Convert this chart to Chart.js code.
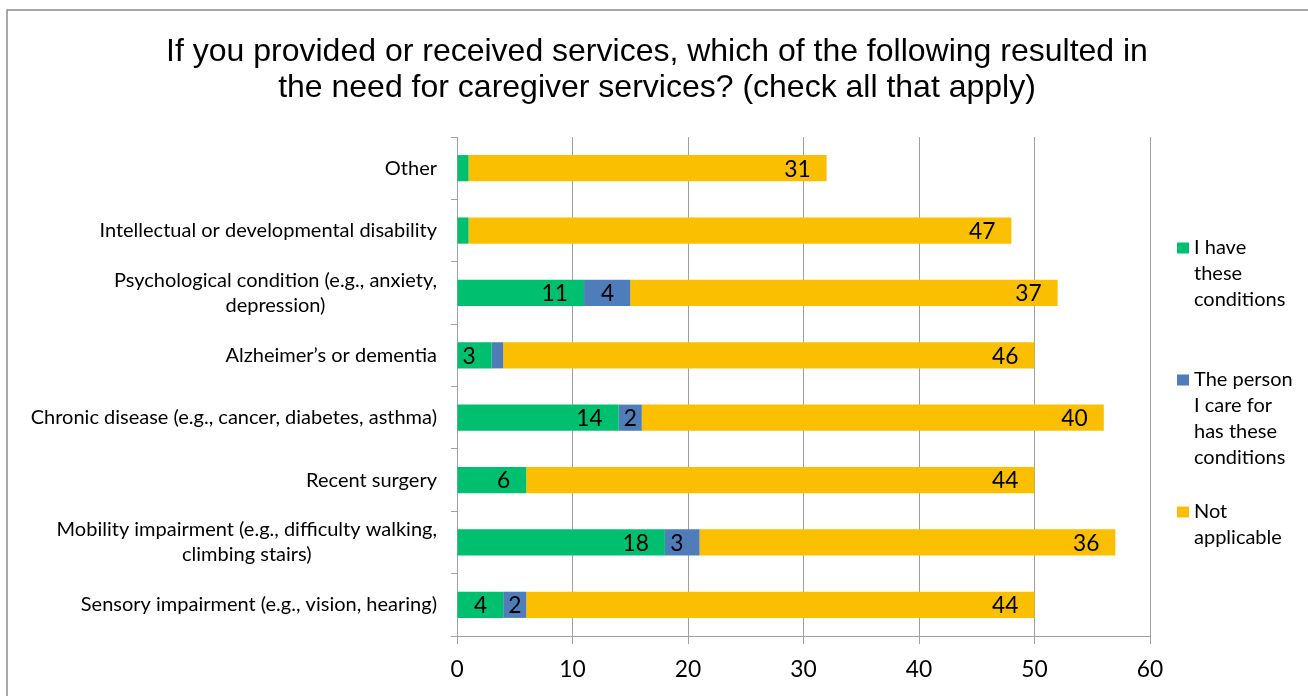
<!DOCTYPE html>
<html>
<head>
<meta charset="utf-8">
<title>Caregiver services</title>
<script src="https://cdn.jsdelivr.net/npm/chart.js@4.4.1/dist/chart.umd.min.js"></script>
<style>
  html, body { margin: 0; padding: 0; background: #fff; }
  #chart { display: block; }
</style>
</head>
<body>
<canvas id="chart" width="1308" height="696"></canvas>
<script>
/* ─── Data ─── */
const titleLines = [
    'If you provided or received services, which of the following resulted in',
    'the need for caregiver services? (check all that apply)'
];

const categories = [
    'Other',
    'Intellectual or developmental disability',
    ['Psychological condition (e.g., anxiety,', 'depression)'],
    'Alzheimer\u2019s or dementia',
    'Chronic disease (e.g., cancer, diabetes, asthma)',
    'Recent surgery',
    ['Mobility impairment (e.g., difficulty walking,', 'climbing stairs)'],
    'Sensory impairment (e.g., vision, hearing)'
];

const seriesNames = ['I have these conditions', 'The person I care for has these conditions', 'Not applicable'];
const legendLines = [
    ['I have', 'these', 'conditions'],
    ['The person', 'I care for', 'has these', 'conditions'],
    ['Not', 'applicable']
];

const haveConditions    = [1, 1, 11, 3, 14, 6, 18, 4];
const careForConditions = [0, 0, 4, 1, 2, 0, 3, 2];
const notApplicable     = [31, 47, 37, 46, 40, 44, 36, 44];

const xTickValues = [0, 10, 20, 30, 40, 50, 60];

/* ─── Styles ─── */
const Colors = {
    have:    '#00BF6F',
    careFor: '#4F7DBA',
    notApp:  '#F9BF00',
    grid:    '#a0a0a0',
    frame:   '#8c8c8c',
    text:    '#000000',
};

const labelFamily = 'Lato, "Open Sans", sans-serif';
const titleFamily = '"Liberation Sans", Arial, sans-serif';

// size a substitute font so it takes the same width as the original
function fitSize(text, family, target) {
    const c = document.createElement('canvas').getContext('2d');
    c.font = '100px ' + family;
    return Math.round(target * 1000 / c.measureText(text).width) / 10;
}

const catSize = fitSize('Intellectual or developmental disability', labelFamily, 337);
const numSize = fitSize('44', labelFamily, 26.5);

/* ─── Value labels at the inside end of each segment ─── */
const barLabels = {
    id: 'barLabels',
    afterDatasetsDraw(chart) {
        const ctx = chart.ctx;
        ctx.save();
        ctx.font = numSize + 'px ' + labelFamily;
        ctx.fillStyle = Colors.text;
        ctx.textBaseline = 'middle';
        ctx.textAlign = 'right';
        chart.data.datasets.forEach((ds, di) => {
            chart.getDatasetMeta(di).data.forEach((bar, i) => {
                const v = ds.data[i];
                if (!v) return;
                const text = String(v);
                const w = ctx.measureText(text).width;
                const start = Math.min(bar.base, bar.x);
                const end = Math.max(bar.base, bar.x);
                if (w > end - start - 2) return;   // does not fit
                let right = end - 16;
                if (right - w < start + 3) right = (start + end + w) / 2;
                ctx.fillText(text, right, bar.y + 1);
            });
        });
        ctx.restore();
    }
};

/* ─── Frame, title, category labels, legend ─── */
const decorations = {
    id: 'decorations',
    afterDraw(chart) {
        const ctx = chart.ctx;
        const area = chart.chartArea;
        ctx.save();

        ctx.strokeStyle = Colors.frame;
        ctx.lineWidth = 1.5;
        ctx.strokeRect(7, 10, chart.width + 50, chart.height + 50);

        ctx.fillStyle = Colors.text;
        ctx.font = '32px ' + titleFamily;
        ctx.textAlign = 'center';
        ctx.textBaseline = 'alphabetic';
        titleLines.forEach((t, i) => ctx.fillText(t, 657, 61 + i * 36));

        // category labels: block right aligned, lines centred inside it
        ctx.font = catSize + 'px ' + labelFamily;
        ctx.textBaseline = 'middle';
        const yScale = chart.scales.y;
        categories.forEach((c, i) => {
            const lines = Array.isArray(c) ? c : [c];
            const widest = Math.max(...lines.map(l => ctx.measureText(l).width));
            const cx = area.left - 20 - widest / 2;
            const cy = yScale.getPixelForValue(i);
            lines.forEach((l, j) => {
                ctx.fillText(l, cx, cy + (j - (lines.length - 1) / 2) * 25);
            });
        });

        // legend
        ctx.textAlign = 'left';
        ctx.textBaseline = 'alphabetic';
        legendLines.forEach((lines, k) => {
            const base = 254 + k * 132;
            ctx.fillStyle = chart.data.datasets[k].backgroundColor;
            ctx.fillRect(1177, base - 11.5, 12, 11);
            ctx.fillStyle = Colors.text;
            lines.forEach((l, j) => ctx.fillText(l, 1194, base + j * 26));
        });

        ctx.restore();
    }
};

new Chart(document.getElementById('chart'), {
    type: 'bar',
    data: {
        labels: categories,
        datasets: [
            { label: seriesNames[0], data: haveConditions,    backgroundColor: Colors.have },
            { label: seriesNames[1], data: careForConditions, backgroundColor: Colors.careFor },
            { label: seriesNames[2], data: notApplicable,     backgroundColor: Colors.notApp },
        ]
    },
    options: {
        indexAxis: 'y',
        responsive: false,
        animation: false,
        events: [],
        layout: { padding: { top: 137, right: 158, left: 0, bottom: 0 } },
        datasets: { bar: { categoryPercentage: 1, barPercentage: 0.42 } },
        plugins: {
            legend:  { display: false },
            title:   { display: false },
            tooltip: { enabled: false }
        },
        scales: {
            x: {
                stacked: true,
                min: xTickValues[0],
                max: xTickValues[xTickValues.length - 1],
                ticks: {
                    stepSize: xTickValues[1] - xTickValues[0],
                    color: Colors.text,
                    font: { family: labelFamily, size: numSize },
                    padding: 12,
                    maxRotation: 0
                },
                grid:   { color: Colors.grid, tickLength: 8 },
                border: { color: Colors.grid },
                afterFit(s) { s.height = 60; }
            },
            y: {
                stacked: true,
                ticks:  { display: false },
                grid:   { offset: true, drawOnChartArea: false, tickLength: 6, color: Colors.grid },
                border: { color: Colors.grid },
                afterFit(s) { s.width = 457; }
            }
        }
    },
    plugins: [barLabels, decorations]
});
</script>
</body>
</html>
